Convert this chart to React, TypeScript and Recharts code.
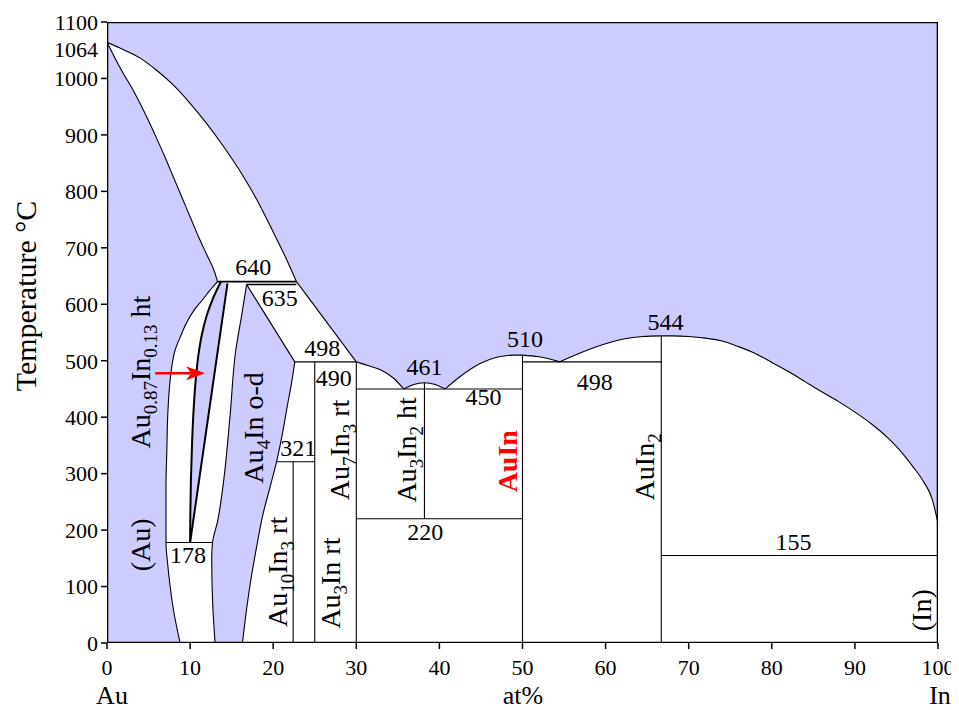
import { ScatterChart, Scatter, XAxis, YAxis, ReferenceDot } from "recharts";

const FONT = "'Liberation Serif', 'Times New Roman', serif";
const LAVENDER = "#ccccff";

type Pt = { x: number; y: number };
const pts = (arr: number[][]): Pt[] => arr.map(([x, y]) => ({ x, y }));

const xTicks = [0, 10, 20, 30, 40, 50, 60, 70, 80, 90, 100];
const yTicks = [0, 100, 200, 300, 400, 500, 600, 700, 800, 900, 1000, 1100];

// Au side: solidus / liquidus lens from the melting point of Au
const solidusAu = pts([
  [0, 1064], [1, 1035], [2, 1008], [3, 983], [4, 955], [5, 925], [6, 893], [7, 860],
  [8, 825], [9, 790], [10, 755], [11, 720], [12, 688], [13, 655], [13.3, 640],
]);
const liquidusAu = pts([
  [0, 1064], [2, 1051], [4, 1036], [6, 1014], [8, 988], [10, 956], [12, 920],
  [14, 880], [16, 836], [18, 786], [20, 728], [21.5, 683], [22.8, 640],
]);

// (Au) solid solution boundary
const solvusAu = pts([
  [13.3, 640], [12.4, 625], [11.5, 608], [10.5, 590], [9.6, 568], [8.9, 545], [8.2, 519],
  [7.8, 490], [7.5, 450], [7.3, 400], [7.2, 340], [7.1, 280], [7.1, 220], [7.1, 178],
  [7.3, 140], [7.6, 100], [8.1, 50], [8.8, 0],
]);

// Au0.87In0.13 ht band
const htLeft = pts([
  [13.7, 640], [12.8, 612], [12.0, 580], [11.4, 545], [11.0, 510], [10.7, 470],
  [10.45, 420], [10.25, 360], [10.1, 290], [10.03, 230], [10, 178],
]);
const htRight = pts([[14.5, 637], [10, 178]]);

// Au4In o-d band
const au4InLeft = pts([
  [16.8, 635], [16.2, 580], [15.5, 519], [14.8, 401], [14.0, 283], [13.3, 215],
  [12.7, 178], [12.6, 150], [12.7, 76], [13.0, 0],
]);
const au4InTop = pts([[16.8, 635], [22.6, 498]]);
const au4InRight = pts([
  [22.6, 498], [22.2, 460], [21.7, 420], [21.1, 370], [20.4, 321], [19.6, 275],
  [18.8, 230], [18.0, 170], [17.4, 120], [16.8, 60], [16.3, 0],
]);

// liquidus pieces between the Au4In peritectic and pure In
const liqAu7In3 = pts([[22.8, 640], [30, 498]]);
const liqEut1 = pts([[30, 498], [31.3, 492], [32.9, 484], [34.5, 469], [35.7, 450]]);
const liqAu3In2 = pts([[35.7, 450], [36.9, 458], [38.2, 461], [39.5, 458], [40.7, 450]]);
const liqAuInLeft = pts([[40.7, 450], [42.5, 472], [44.9, 495], [46.9, 506], [48.9, 510], [50, 510]]);
const liqAuInRight = pts([[50, 510], [52, 507], [54.5, 498]]);
const liqAuIn2Left = pts([
  [54.5, 498], [56, 508], [58, 520], [60, 530], [62, 538], [64.5, 543], [66.7, 544],
]);
const liquidusIn = pts([
  [66.7, 544], [68, 544], [70, 543], [72, 540], [74, 535], [76, 525], [78, 513], [80, 497],
  [82, 481], [84, 463], [86, 445], [88, 428], [90, 409], [92, 388], [94, 363],
  [95.5, 340], [97, 312], [98.3, 285], [99.3, 255], [100, 212],
]);

const isotherms = [
  { t: 640, from: 13.3, to: 22.8, w: 1.8 },
  { t: 635, from: 16.8, to: 22.8, w: 1.4 },
  { t: 498, from: 22.6, to: 30, w: 1.1 },
  { t: 321, from: 20.4, to: 25, w: 1.1 },
  { t: 178, from: 7.1, to: 12.7, w: 1.1 },
  { t: 450, from: 30, to: 50, w: 1.1 },
  { t: 220, from: 30, to: 50, w: 1.1 },
  { t: 498, from: 50, to: 66.7, w: 1.1 },
  { t: 155, from: 66.7, to: 100, w: 1.1 },
];

const compounds = [
  { x: 22.4, top: 321, bottom: 0 },
  { x: 25, top: 498, bottom: 0 },
  { x: 30, top: 498, bottom: 0 },
  { x: 38.2, top: 461, bottom: 220 },
  { x: 50, top: 510, bottom: 0 },
  { x: 66.7, top: 544, bottom: 0 },
];

const frame = pts([[0, 0], [100, 0], [100, 1100], [0, 1100], [0, 0]]);
const arrow = pts([[5.8, 478], [11.8, 478]]);

// temperature annotations: centre x, baseline y
const tempLabels = [
  { text: "640", x: 17.6, y: 652 },
  { text: "635", x: 20.8, y: 597 },
  { text: "498", x: 25.9, y: 508 },
  { text: "490", x: 27.3, y: 455 },
  { text: "461", x: 38.2, y: 475 },
  { text: "510", x: 50.3, y: 524 },
  { text: "450", x: 45.3, y: 422 },
  { text: "544", x: 67.2, y: 555 },
  { text: "498", x: 58.7, y: 448 },
  { text: "220", x: 38.3, y: 183 },
  { text: "321", x: 23.0, y: 331 },
  { text: "178", x: 9.75, y: 142 },
  { text: "155", x: 82.6, y: 165 },
];

// phase names, vertical; [s] = subscript
type Part = string | [string];
const phaseLabels: { parts: Part[]; x: number; y: number; red?: boolean }[] = [
  { parts: ["Au", ["0.87"], "In", ["0.13"], " ht"], x: 5.2, y: 480 },
  { parts: ["(Au)"], x: 5.2, y: 174 },
  { parts: ["Au", ["4"], "In o-d"], x: 18.8, y: 381 },
  { parts: ["Au", ["10"], "In", ["3"], " rt"], x: 21.7, y: 126 },
  { parts: ["Au", ["3"], "In rt"], x: 28.0, y: 106 },
  { parts: ["Au", ["7"], "In", ["3"], " rt"], x: 29.1, y: 342 },
  { parts: ["Au", ["3"], "In", ["2"], " ht"], x: 37.2, y: 342 },
  { parts: ["AuIn"], x: 49.3, y: 322, red: true },
  { parts: ["AuIn", ["2"]], x: 65.8, y: 312 },
  { parts: ["(In)"], x: 99.2, y: 58 },
];

const noDot = () => <g />;

const TempText = ({ cx, cy, text }: any) => (
  <text x={cx} y={cy} textAnchor="middle" fontSize={24} fontFamily={FONT} fill="#000">
    {text}
  </text>
);

const PhaseText = ({ cx, cy, parts, red }: any) => {
  let down = false;
  return (
    <text
      x={cx}
      y={cy}
      transform={`rotate(-90 ${cx} ${cy})`}
      textAnchor="middle"
      fontSize={28}
      fontFamily={FONT}
      fontWeight={red ? "bold" : "normal"}
      fill={red ? "#ff0000" : "#000"}
      style={{ whiteSpace: "pre" }}
    >
      {parts.map((p: Part, i: number) => {
        if (Array.isArray(p)) {
          const el = (
            <tspan key={i} fontSize={19} dy={down ? 0 : 7}>
              {p[0]}
            </tspan>
          );
          down = true;
          return el;
        }
        const el = (
          <tspan key={i} dy={down ? -7 : 0}>
            {p}
          </tspan>
        );
        down = false;
        return el;
      })}
    </text>
  );
};

const arrowLine = (p: any) => {
  const [a, b] = p.points;
  return (
    <g>
      <line x1={a.x} y1={a.y} x2={b.x - 12} y2={b.y} stroke="#ff0000" strokeWidth={2.5} />
      <polygon
        points={`${b.x},${b.y} ${b.x - 19},${b.y - 7} ${b.x - 14},${b.y} ${b.x - 19},${b.y + 7}`}
        fill="#ff0000"
      />
    </g>
  );
};

const XTitle = ({ viewBox }: any) => {
  const { x, y } = viewBox;
  return (
    <g fontFamily={FONT} fontSize={26} fill="#000">
      <text x={x + 5} y={y + 61} textAnchor="middle">Au</text>
      <text x={x + 416} y={y + 61} textAnchor="middle">at%</text>
      <text x={x + 833} y={y + 61} textAnchor="middle">In</text>
    </g>
  );
};

const YTitle = ({ viewBox }: any) => {
  const { x, y } = viewBox;
  const cx = x + 28;
  const cy = y + 274;
  return (
    <text
      x={cx}
      y={cy}
      transform={`rotate(-90 ${cx} ${cy})`}
      textAnchor="middle"
      fontFamily={FONT}
      fontSize={30}
      fill="#000"
    >
      Temperature °C
    </text>
  );
};

const tickStyle = { fill: "#000", fontSize: 22, fontFamily: FONT };
const edge = { stroke: "#000", strokeWidth: 1.1, fill: "none" };
const whiteFill = { fill: "#fff", stroke: "none" };

export default function App() {
  const lens = [...solidusAu, ...[...liquidusAu].reverse()];
  const leftTwoPhase = [
    { x: 13.3, y: 640 },
    { x: 16.8, y: 640 },
    ...au4InLeft,
    ...[...solvusAu].reverse(),
  ];
  const rightTwoPhase = [
    { x: 16.8, y: 640 },
    ...liqAu7In3,
    ...liqEut1,
    ...liqAu3In2,
    ...liqAuInLeft,
    ...liqAuInRight,
    ...liqAuIn2Left,
    ...liquidusIn,
    { x: 100, y: 0 },
    ...[...au4InRight].reverse(),
    ...[...au4InTop].reverse(),
  ];
  const htBand = [...htLeft, ...[...htRight].reverse()];

  // boundary curves: [points, curve type, width]
  const curves: [Pt[], string, number][] = [
    [solidusAu, "monotoneX", 1.1],
    [liquidusAu, "monotoneX", 1.1],
    [solvusAu, "monotoneY", 1.1],
    [au4InLeft, "monotoneY", 1.1],
    [au4InTop, "linear", 1.1],
    [au4InRight, "monotoneY", 1.1],
    [liqAu7In3, "linear", 1.1],
    [liqEut1, "monotoneX", 1.1],
    [liqAu3In2, "monotoneX", 1.1],
    [liqAuInLeft, "monotoneX", 1.1],
    [liqAuInRight, "monotoneX", 1.1],
    [liqAuIn2Left, "monotoneX", 1.1],
    [liquidusIn, "monotoneX", 1.1],
    [htLeft, "monotoneY", 2],
    [htRight, "linear", 2],
  ];

  return (
    <ScatterChart
      width={951}
      height={702}
      margin={{ top: 14, right: 21, bottom: 0, left: 0 }}
      style={{ fontFamily: FONT }}
    >
      <XAxis
        type="number"
        dataKey="x"
        domain={[0, 100]}
        ticks={xTicks}
        interval={0}
        allowDataOverflow
        height={67}
        axisLine={false}
        tickSize={6}
        tickMargin={10}
        tickLine={{ stroke: "#000", strokeWidth: 1.5 }}
        tick={tickStyle}
        label={<XTitle />}
      />
      <YAxis
        type="number"
        dataKey="y"
        domain={[0, 1100]}
        ticks={yTicks}
        interval={0}
        allowDataOverflow
        width={99}
        axisLine={false}
        tickSize={6}
        tickMargin={3}
        tickLine={{ stroke: "#000", strokeWidth: 1.5 }}
        tick={tickStyle}
        label={<YTitle />}
      />

      <Scatter data={frame} shape={noDot} line={{ fill: LAVENDER, stroke: "none" }} isAnimationActive={false} />
      <Scatter data={lens} shape={noDot} line={whiteFill} isAnimationActive={false} />
      <Scatter data={leftTwoPhase} shape={noDot} line={whiteFill} isAnimationActive={false} />
      <Scatter data={rightTwoPhase} shape={noDot} line={whiteFill} isAnimationActive={false} />
      <Scatter data={htBand} shape={noDot} line={{ fill: LAVENDER, stroke: "none" }} isAnimationActive={false} />

      {curves.map(([data, type, w], i) => (
        <Scatter
          key={`c-${i}`}
          data={data}
          shape={noDot}
          line={{ ...edge, strokeWidth: w }}
          lineJointType={type as any}
          isAnimationActive={false}
        />
      ))}
      {isotherms.map((iso, i) => (
        <Scatter
          key={`iso-${i}`}
          data={[{ x: iso.from, y: iso.t }, { x: iso.to, y: iso.t }]}
          shape={noDot}
          line={{ ...edge, strokeWidth: iso.w }}
          isAnimationActive={false}
        />
      ))}
      {compounds.map((c, i) => (
        <Scatter
          key={`cmp-${i}`}
          data={[{ x: c.x, y: c.top }, { x: c.x, y: c.bottom }]}
          shape={noDot}
          line={edge}
          isAnimationActive={false}
        />
      ))}

      <Scatter data={frame} shape={noDot} line={{ fill: "none", stroke: "#000", strokeWidth: 2.6 }} isAnimationActive={false} />
      <Scatter data={arrow} shape={noDot} line={arrowLine} isAnimationActive={false} />

      {tempLabels.map((l, i) => (
        <ReferenceDot
          key={`t-${i}`}
          x={l.x}
          y={l.y}
          r={0}
          ifOverflow="visible"
          shape={(p: any) => <TempText cx={p.cx} cy={p.cy} text={l.text} />}
        />
      ))}
      {phaseLabels.map((l, i) => (
        <ReferenceDot
          key={`p-${i}`}
          x={l.x}
          y={l.y}
          r={0}
          ifOverflow="visible"
          shape={(p: any) => <PhaseText cx={p.cx} cy={p.cy} parts={l.parts} red={l.red} />}
        />
      ))}
      <ReferenceDot
        x={0}
        y={1064}
        r={0}
        ifOverflow="visible"
        shape={(p: any) => (
          <text x={p.cx - 9} y={p.cy + 15} textAnchor="end" fontSize={22} fontFamily={FONT} fill="#000">
            1064
          </text>
        )}
      />
    </ScatterChart>
  );
}
